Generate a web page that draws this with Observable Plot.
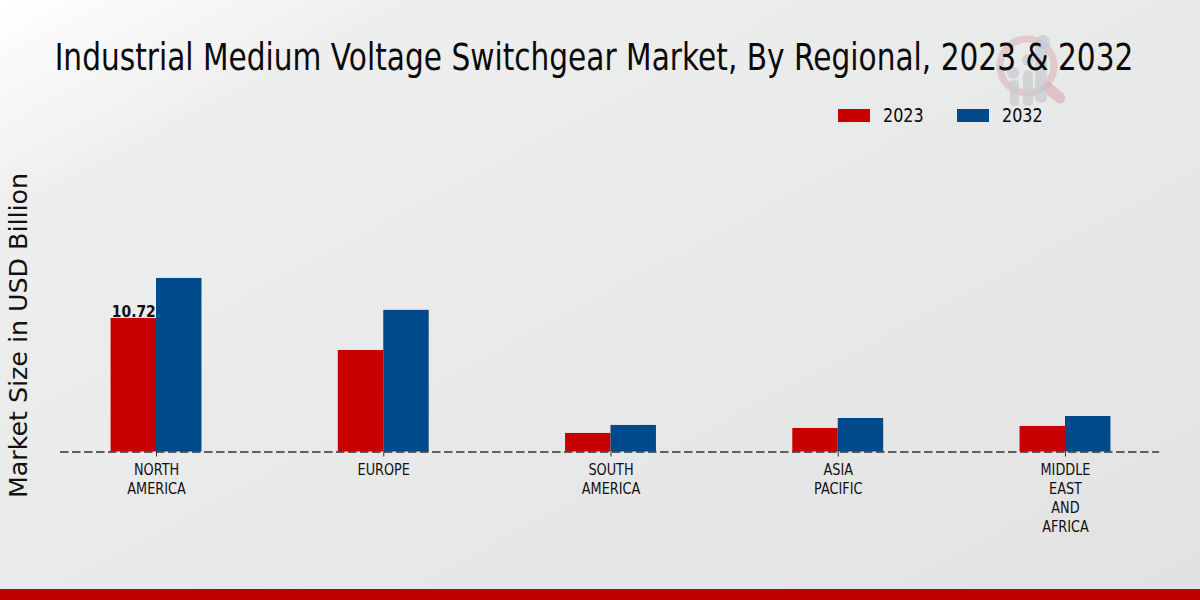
<!DOCTYPE html>
<html>
<head>
<meta charset="utf-8">
<script src="https://cdn.jsdelivr.net/npm/d3@7"></script>
<script src="https://cdn.jsdelivr.net/npm/@observablehq/plot@0.6"></script>
<style>
  html, body { margin: 0; padding: 0; width: 1200px; height: 600px; overflow: hidden; }
  body {
    position: relative;
    background: linear-gradient(152deg, #ffffff 0%, #eeeeee 18%, #e9eaea 45%, #e2e2e3 100%);
    font-family: "DejaVu Sans", sans-serif;
    color: #0a0a0a;
  }
  #header { position: relative; height: 140px; }
  #title {
    position: absolute; left: 593.5px; top: 35px;
    font-size: 36.5px; line-height: 46px; white-space: nowrap; margin: 0; font-weight: 400;
    transform: translateX(-50%) scaleX(0.8116);
  }
  #legend { position: absolute; top: 103px; left: 838px; display: flex; font-size: 20px; line-height: 24px; }
  .item { display: flex; align-items: center; width: 119px; }
  .swatch { width: 32px; height: 13px; margin-right: 13px; flex: none; }
  .label { display: inline-block; transform: scaleX(0.8); transform-origin: 0 0; }
  #logo { position: absolute; left: 985px; top: 25px; pointer-events: none; }
  #chart { position: relative; height: 449px; }
  #chart svg { display: block; background: transparent; overflow: visible; }
  #band { position: absolute; left: 0; right: 0; top: 589px; height: 11px; background: #c00000; }
</style>
</head>
<body>
<div id="header">
  <svg id="logo" width="95" height="90" viewBox="0 0 95 90">
    <circle cx="42" cy="41" r="27" fill="none" stroke="#d8a9ac" stroke-opacity="0.5" stroke-width="7"/>
    <line x1="62" y1="62" x2="75" y2="73" stroke="#d8a9ac" stroke-opacity="0.6" stroke-width="11" stroke-linecap="round"/>
    <g fill="#c9cbd0" fill-opacity="0.75">
      <rect x="25" y="55" width="9" height="26" rx="4"/>
      <rect x="38" y="45" width="10" height="36" rx="5"/>
      <rect x="50" y="15" width="12" height="63" rx="6"/>
      <circle cx="28" cy="48" r="6"/><circle cx="43" cy="35" r="6"/><circle cx="58" cy="17" r="7"/>
    </g>
  </svg>
  <h1 id="title"></h1>
  <div id="legend"></div>
</div>
<div id="chart"></div>
<div id="band"></div>
<script>
const chartTitle = "Industrial Medium Voltage Switchgear Market, By Regional, 2023 & 2032";
const yLabel = "Market Size in USD Billion";
const regions = ["NORTH\nAMERICA", "EUROPE", "SOUTH\nAMERICA", "ASIA\nPACIFIC", "MIDDLE\nEAST\nAND\nAFRICA"];
const years = ["2023", "2032"];
const colors = ["#c80000", "#00498a"];
const values2023 = [10.72, 8.15, 1.49, 1.89, 2.05];
const values2032 = [13.93, 11.37, 2.13, 2.69, 2.85];
const labelled = [{region: regions[0], year: "2023", value: values2023[0]}];

const rows2023 = regions.map((region, i) => ({region, year: years[0], value: values2023[i]}));
const rows2032 = regions.map((region, i) => ({region, year: years[1], value: values2032[i]}));

document.getElementById("title").textContent = chartTitle;
document.getElementById("legend").innerHTML = years.map((y, i) =>
  `<div class="item"><span class="swatch" style="background:${colors[i]}"></span><span class="label">${y}</span></div>`).join("");

const barW = 45.45;
const barStyle = {x: "region", y: "value", fill: "year"};
const plot = Plot.plot({
  width: 1200,
  height: 449,
  marginLeft: 42.4,
  marginRight: 21.4,
  marginTop: 20,
  marginBottom: 137.5,
  style: {background: "transparent", color: "#111"},
  x: {domain: regions, padding: 0, round: false, label: null},
  y: {domain: [0, 23.4], axis: null},
  color: {domain: years, range: colors},
  marks: [
    Plot.barY(rows2023, {...barStyle, insetLeft: 1.5 * barW, insetRight: 2.5 * barW}),
    Plot.barY(rows2032, {...barStyle, insetLeft: 2.5 * barW, insetRight: 1.5 * barW}),
    Plot.ruleY([0], {insetLeft: 17.6, insetRight: 19.4, stroke: "#333", strokeWidth: 1.4, strokeDasharray: "8.5,3.5"}),
    Plot.axisX({
      anchor: "bottom", tickSize: 5, tickPadding: 5, label: null, stroke: "#333",
      fontSize: 16.5, lineHeight: 1.15, fill: "#111", fontFamily: "DejaVu Sans"
    }),
    Plot.text(labelled, {
      x: "region", y: "value", dx: -barW / 2, text: d => d.value.toFixed(2), lineAnchor: "bottom", dy: -1,
      fontSize: 15.5, fontWeight: "bold", fontFamily: "DejaVu Sans", fill: "#111"
    }),
    Plot.text([yLabel], {
      frameAnchor: "left", textAnchor: "middle", rotate: -90, dx: -24.5, dy: 29.25,
      fontSize: 25.3, fontFamily: "DejaVu Sans", fill: "#111"
    })
  ]
});
// Narrow the tick and value labels, as in the reference
plot.querySelectorAll('g[aria-label="x-axis tick label"] text').forEach(t => {
  t.setAttribute("transform", (t.getAttribute("transform") || "") + " scale(0.78,1)");
});
plot.querySelectorAll("text").forEach(t => {
  if (t.textContent === values2023[0].toFixed(2)) {
    t.setAttribute("textLength", 44);
    t.setAttribute("lengthAdjust", "spacingAndGlyphs");
  }
});
document.getElementById("chart").appendChild(plot);
</script>
</body>
</html>
